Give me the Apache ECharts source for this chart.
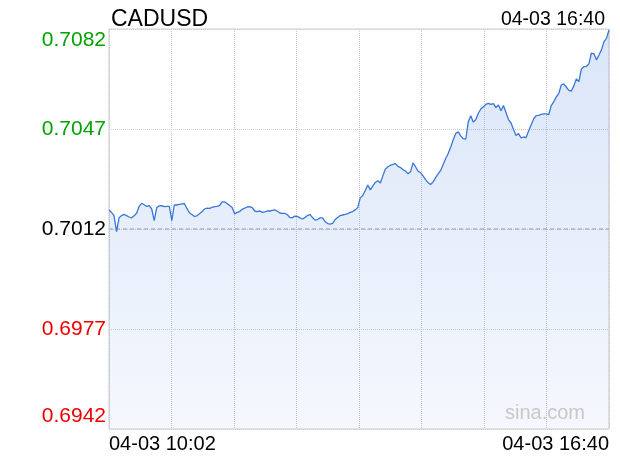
<!DOCTYPE html>
<html>
<head>
<meta charset="utf-8">
<script src="https://cdn.jsdelivr.net/npm/echarts@6/dist/echarts.min.js"></script>
<style>html,body{margin:0;padding:0;background:#fff;}#c{width:620px;height:460px;}</style>
</head>
<body>
<div id="c"></div>
<script>
var title = 'CADUSD';
var dateLabel = '04-03';
var startTime = '10:02';
var endTime = '16:40';
var stepMinutes = 2;
var yTicks = [0.6942, 0.6977, 0.7012, 0.7047, 0.7082];
var prevClose = 0.7012;
var prices = [
0.70187,0.70178,0.70167,0.70111,0.70159,0.70167,0.70171,0.70167,0.70162,0.70159,
0.70166,0.70176,0.70199,0.70210,0.70205,0.70199,0.70202,0.70190,0.70149,0.70195,
0.70201,0.70202,0.70198,0.70199,0.70199,0.70149,0.70204,0.70204,0.70206,0.70208,
0.70209,0.70192,0.70177,0.70171,0.70164,0.70166,0.70173,0.70180,0.70190,0.70193,
0.70192,0.70196,0.70198,0.70199,0.70202,0.70215,0.70215,0.70209,0.70202,0.70195,
0.70173,0.70178,0.70181,0.70189,0.70193,0.70197,0.70198,0.70195,0.70183,0.70181,
0.70183,0.70178,0.70180,0.70183,0.70183,0.70185,0.70187,0.70182,0.70176,0.70175,
0.70175,0.70170,0.70160,0.70160,0.70165,0.70164,0.70159,0.70155,0.70160,0.70167,
0.70171,0.70160,0.70151,0.70153,0.70159,0.70159,0.70146,0.70139,0.70137,0.70140,
0.70153,0.70160,0.70167,0.70169,0.70171,0.70174,0.70178,0.70181,0.70187,0.70195,
0.70229,0.70237,0.70255,0.70274,0.70257,0.70271,0.70283,0.70289,0.70281,0.70306,
0.70330,0.70338,0.70343,0.70346,0.70349,0.70339,0.70335,0.70328,0.70323,0.70313,
0.70320,0.70351,0.70338,0.70322,0.70317,0.70306,0.70293,0.70282,0.70276,0.70285,
0.70300,0.70313,0.70325,0.70346,0.70367,0.70384,0.70407,0.70432,0.70454,0.70460,
0.70446,0.70436,0.70435,0.70495,0.70516,0.70494,0.70503,0.70525,0.70540,0.70548,
0.70556,0.70560,0.70556,0.70559,0.70545,0.70554,0.70534,0.70552,0.70528,0.70503,
0.70491,0.70468,0.70447,0.70454,0.70439,0.70442,0.70440,0.70463,0.70484,0.70505,
0.70517,0.70518,0.70521,0.70523,0.70523,0.70520,0.70552,0.70565,0.70582,0.70594,
0.70624,0.70628,0.70617,0.70605,0.70603,0.70621,0.70645,0.70636,0.70680,0.70688,
0.70689,0.70698,0.70736,0.70733,0.70712,0.70729,0.70747,0.70776,0.70787,0.70817
];

function toMin(t){var p=t.split(':');return +p[0]*60 + +p[1];}
var totalMin = toMin(endTime) - toMin(startTime);
var seriesData = prices.map(function(v,i){return [i*stepMinutes, v];});
var closeData = [[0, prevClose], [totalMin, prevClose]];

var FONT = 'Liberation Sans, Arial, Helvetica, sans-serif';
var GREEN = '#00a300', RED = '#ee0000';

var chart = echarts.init(document.getElementById('c'), null, {renderer:'canvas'});
chart.setOption({
  animation: false,
  backgroundColor: '#fff',
  grid: {left: 109, right: 11, top: 29, bottom: 31, show: true, borderColor: '#cccccc', borderWidth: 1, containLabel: false},
  title: [
    {text: title, left: 106, top: 3, textStyle: {fontFamily: FONT, fontSize: 23, fontWeight: 'normal', color: '#000'}},
    {text: dateLabel + ' ' + endTime, right: 10, top: 5, textStyle: {fontFamily: FONT, fontSize: 19.5, fontWeight: 'normal', color: '#000'}}
  ],
  graphic: [{
    type: 'text', right: 35, top: 403, silent: true, z: 100,
    style: {text: 'sina.com', fontFamily: FONT, fontSize: 20, fill: '#c8c8c8'}
  }],
  xAxis: {
    type: 'value', min: 0, max: totalMin, interval: totalMin/8,
    axisLine: {show: false}, axisTick: {show: false},
    splitLine: {show: true, lineStyle: {color: '#c8c8c8', type: 'dotted', width: 1}},
    axisLabel: {
      show: true, margin: 5, fontFamily: FONT, fontSize: 20, color: '#000',
      showMinLabel: true, showMaxLabel: true,
      alignMinLabel: 'left', alignMaxLabel: 'right',
      formatter: function(v){
        if (Math.abs(v) < 1e-6) return dateLabel + ' ' + startTime;
        if (Math.abs(v - totalMin) < 1e-6) return dateLabel + ' ' + endTime;
        return '';
      }
    }
  },
  yAxis: {
    type: 'value', min: yTicks[0], max: yTicks[yTicks.length-1], interval: 0.0035,
    axisLine: {show: false}, axisTick: {show: false},
    splitLine: {show: true, lineStyle: {color: '#d0d0d0', type: 'dotted', width: 1}},
    axisLabel: {
      margin: 3, fontFamily: FONT, fontSize: 21,
      formatter: function(v){
        var s = v.toFixed(4);
        var isMax = Math.abs(v - yTicks[yTicks.length-1]) < 1e-7;
        var isMin = Math.abs(v - yTicks[0]) < 1e-7;
        if (isMax) return '{gt|' + s + '}';
        if (isMin) return '{rb|' + s + '}';
        if (Math.abs(v - prevClose) < 1e-7) return '{k|' + s + '}';
        return v > prevClose ? '{g|' + s + '}' : '{r|' + s + '}';
      },
      rich: {
        g: {color: GREEN, fontFamily: FONT, fontSize: 21},
        r: {color: RED, fontFamily: FONT, fontSize: 21},
        k: {color: '#000', fontFamily: FONT, fontSize: 21},
        gt: {color: GREEN, fontFamily: FONT, fontSize: 21, padding: [22,0,0,0]},
        rb: {color: RED, fontFamily: FONT, fontSize: 21, padding: [0,0,26,0]}
      }
    }
  },
  series: [{
    type: 'line',
    data: closeData,
    showSymbol: false, symbol: 'none', silent: true, z: 1,
    lineStyle: {color: '#a0a0a0', type: [4, 3], width: 1}
  }, {
    type: 'line',
    data: seriesData,
    showSymbol: false,
    symbol: 'none', z: 2,
    lineStyle: {color: '#3a76d8', width: 1.3},
    areaStyle: {
      color: {type: 'linear', x: 0, y: 0, x2: 0, y2: 1, colorStops: [
        {offset: 0, color: 'rgba(60,120,220,0.27)'}, {offset: 1, color: 'rgba(60,120,220,0.08)'}
      ]}
    }
  }]
});
</script>
</body>
</html>
